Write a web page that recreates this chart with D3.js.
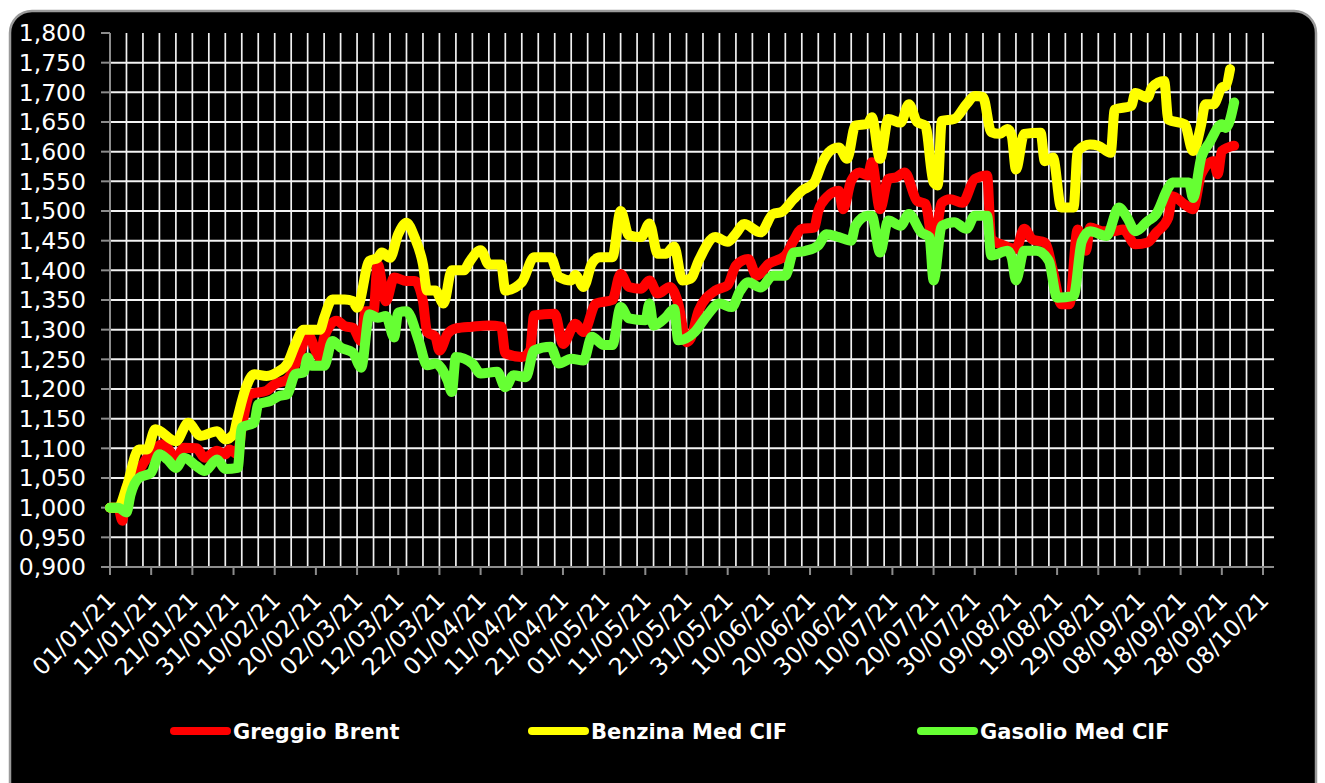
<!DOCTYPE html>
<meta charset="utf-8">
<style>
  body { margin: 0; background: #fff; }
  text { font-family: "DejaVu Sans", Verdana, sans-serif; fill: #fff; }
</style>
<body>
<script src="https://cdnjs.cloudflare.com/ajax/libs/d3/7.8.5/d3.min.js"></script>
<script>

// ---- data (days counted from 01/01/21) ----
var seriesNames = ["Greggio Brent", "Benzina Med CIF", "Gasolio Med CIF"];
var seriesColors = ["#ff0000", "#ffff00", "#66ff33"];

var brentDays = [0,2,3,4,7,9,13,16,18,21,23,26,28,29,31,32,34,38,40,43,46,48,51,52,55,57,59,61,62,64,65,67,69,72,74,76,77,79,80,82,84,88,92,95,96,100,102,103,108,110,113,115,118,122,124,126,129,131,133,136,138,140,141,143,147,150,152,155,157,160,164,166,168,171,172,174,177,178,180,182,184,185,187,189,191,193,196,198,200,202,204,207,210,213,214,217,220,222,224,227,229,231,233,235,237,238,241,244,246,249,252,254,257,258,261,263,265,268,269,270,273];
var brentValues = [1.000,1.000,0.978,1.034,1.062,1.084,1.107,1.084,1.101,1.100,1.084,1.096,1.090,1.098,1.090,1.135,1.191,1.197,1.208,1.216,1.258,1.292,1.253,1.287,1.315,1.306,1.303,1.281,1.331,1.331,1.410,1.348,1.388,1.382,1.382,1.348,1.296,1.288,1.265,1.293,1.302,1.305,1.307,1.305,1.260,1.254,1.265,1.324,1.327,1.276,1.310,1.296,1.344,1.350,1.394,1.372,1.369,1.383,1.361,1.372,1.344,1.279,1.285,1.333,1.366,1.375,1.408,1.419,1.391,1.411,1.425,1.450,1.470,1.472,1.500,1.523,1.534,1.503,1.551,1.565,1.560,1.582,1.503,1.554,1.557,1.565,1.517,1.512,1.442,1.514,1.520,1.514,1.554,1.560,1.453,1.442,1.436,1.470,1.452,1.447,1.399,1.343,1.343,1.469,1.433,1.472,1.466,1.466,1.469,1.444,1.447,1.463,1.489,1.525,1.511,1.503,1.562,1.584,1.562,1.601,1.610];

var benzinaDays = [0,2,4,7,9,11,16,19,22,26,28,30,31,33,35,38,41,43,45,47,51,52,54,57,59,60,63,65,66,68,70,72,74,76,77,79,81,83,86,87,90,92,95,96,100,103,107,109,112,113,115,117,119,122,124,126,129,131,133,135,137,139,141,143,147,150,152,154,158,161,163,166,168,171,173,175,177,179,181,184,185,187,189,192,194,196,198,200,201,202,205,208,210,212,214,216,218,219,220,222,226,227,229,231,234,235,238,240,243,244,248,249,252,253,256,257,261,263,265,266,268,270,271,272];
var benzinaValues = [1.000,1.000,1.034,1.098,1.098,1.132,1.112,1.143,1.121,1.129,1.115,1.124,1.152,1.202,1.225,1.222,1.230,1.242,1.275,1.300,1.300,1.320,1.351,1.351,1.348,1.337,1.416,1.421,1.430,1.421,1.461,1.480,1.455,1.410,1.366,1.366,1.344,1.400,1.400,1.411,1.434,1.410,1.410,1.366,1.380,1.422,1.422,1.389,1.383,1.392,1.372,1.411,1.422,1.422,1.500,1.459,1.456,1.479,1.428,1.428,1.440,1.383,1.386,1.417,1.456,1.448,1.462,1.478,1.464,1.495,1.498,1.520,1.534,1.548,1.582,1.602,1.607,1.588,1.644,1.647,1.658,1.588,1.655,1.649,1.680,1.650,1.644,1.548,1.543,1.652,1.655,1.680,1.694,1.692,1.633,1.630,1.638,1.626,1.570,1.630,1.632,1.584,1.590,1.506,1.506,1.601,1.612,1.610,1.598,1.671,1.677,1.699,1.691,1.708,1.719,1.654,1.646,1.601,1.646,1.680,1.680,1.708,1.711,1.739];

var gasolioDays = [0,2,4,5,7,10,12,14,16,18,21,23,26,28,31,32,35,36,39,41,43,45,47,48,49,52,54,56,59,61,63,65,67,69,70,72,75,77,79,82,83,84,88,90,94,96,98,101,103,107,109,112,115,117,120,122,124,126,130,131,132,135,137,138,142,145,148,151,153,155,158,161,164,166,169,172,174,177,180,181,184,185,187,189,192,194,197,199,200,202,205,208,210,213,214,218,219,220,222,225,228,230,234,236,238,242,245,247,249,252,254,257,258,262,263,265,267,270,271,273];
var gasolioValues = [1.000,1.000,0.992,1.022,1.050,1.059,1.090,1.081,1.067,1.084,1.070,1.062,1.081,1.065,1.067,1.135,1.143,1.174,1.180,1.188,1.191,1.225,1.228,1.253,1.239,1.239,1.281,1.270,1.261,1.236,1.326,1.320,1.323,1.287,1.329,1.331,1.281,1.240,1.243,1.214,1.195,1.254,1.243,1.226,1.229,1.203,1.223,1.220,1.265,1.271,1.243,1.251,1.248,1.288,1.274,1.274,1.338,1.319,1.316,1.344,1.307,1.321,1.335,1.282,1.296,1.324,1.344,1.338,1.365,1.380,1.371,1.391,1.391,1.430,1.433,1.442,1.461,1.456,1.450,1.475,1.492,1.492,1.430,1.484,1.475,1.495,1.464,1.456,1.383,1.475,1.481,1.470,1.492,1.492,1.425,1.433,1.421,1.383,1.433,1.433,1.416,1.354,1.357,1.449,1.466,1.458,1.506,1.489,1.466,1.483,1.494,1.539,1.548,1.548,1.522,1.590,1.615,1.646,1.640,1.683];

var xTickLabels = ["01/01/21","11/01/21","21/01/21","31/01/21","10/02/21","20/02/21","02/03/21","12/03/21","22/03/21","01/04/21","11/04/21","21/04/21","01/05/21","11/05/21","21/05/21","31/05/21","10/06/21","20/06/21","30/06/21","10/07/21","20/07/21","30/07/21","09/08/21","19/08/21","29/08/21","08/09/21","18/09/21","28/09/21","08/10/21"];
var yTicks = [0.90,0.95,1.00,1.05,1.10,1.15,1.20,1.25,1.30,1.35,1.40,1.45,1.50,1.55,1.60,1.65,1.70,1.75,1.80];

// ---- layout ----
var W = 1325, H = 783;
var plot = {left: 110, top: 33, right: 1274, bottom: 567};

var parse = d3.timeParse("%d/%m/%y");
var start = parse("01/01/21");
var day = function(d) { return d3.timeDay.offset(start, d); };

var x = d3.scaleTime()
    .domain([start, parse("08/10/21")])
    .range([plot.left, 1263]);
var y = d3.scaleLinear()
    .domain([0.9, 1.8])
    .range([plot.bottom, plot.top]);

var fmt = function(v) { return d3.format(".3f")(v).replace(".", ","); };

var svg = d3.select("body").append("svg")
    .attr("width", W)
    .attr("height", H);

// black panel with rounded border
svg.append("rect")
    .attr("x", 10).attr("y", 11)
    .attr("width", 1306).attr("height", 800)
    .attr("rx", 22)
    .style("fill", "#000")
    .style("stroke", "#9a9a9a")
    .style("stroke-width", 2.5);

// grid
var vDays = d3.range(4, 281, 4);
svg.append("g").selectAll("line")
    .data(vDays)
  .enter().append("line")
    .attr("x1", function(d) { return x(day(d)); })
    .attr("x2", function(d) { return x(day(d)); })
    .attr("y1", plot.top).attr("y2", plot.bottom)
    .style("stroke", "#f2f2f2")
    .style("stroke-width", 1.7);

svg.append("g").selectAll("line")
    .data(yTicks.slice(1, -1))
  .enter().append("line")
    .attr("x1", plot.left).attr("x2", plot.right)
    .attr("y1", function(d) { return y(d); })
    .attr("y2", function(d) { return y(d); })
    .style("stroke", "#f2f2f2")
    .style("stroke-width", 2);

// axes
var axisColor = "#8c8c8c";
svg.append("line")
    .attr("x1", plot.left).attr("x2", plot.left)
    .attr("y1", plot.top).attr("y2", plot.bottom)
    .style("stroke", axisColor).style("stroke-width", 2);
svg.append("line")
    .attr("x1", plot.left).attr("x2", plot.right)
    .attr("y1", plot.bottom).attr("y2", plot.bottom)
    .style("stroke", axisColor).style("stroke-width", 2);

var yAxis = svg.append("g");
yAxis.selectAll("line")
    .data(yTicks)
  .enter().append("line")
    .attr("x1", plot.left - 9).attr("x2", plot.left)
    .attr("y1", function(d) { return y(d); })
    .attr("y2", function(d) { return y(d); })
    .style("stroke", axisColor).style("stroke-width", 2);
yAxis.selectAll("text")
    .data(yTicks)
  .enter().append("text")
    .attr("x", 86)
    .attr("y", function(d) { return y(d); })
    .attr("dy", "0.36em")
    .style("text-anchor", "end")
    .style("font-size", "23.5px")
    .text(fmt);

var xAxis = svg.append("g");
xAxis.selectAll("line")
    .data(xTickLabels)
  .enter().append("line")
    .attr("x1", function(d) { return x(parse(d)); })
    .attr("x2", function(d) { return x(parse(d)); })
    .attr("y1", plot.bottom).attr("y2", plot.bottom + 8)
    .style("stroke", axisColor).style("stroke-width", 2);
xAxis.selectAll("text")
    .data(xTickLabels)
  .enter().append("text")
    .attr("transform", function(d) {
      return "translate(" + (x(parse(d)) + 7) + "," + (plot.bottom + 35) + ")rotate(-45)";
    })
    .style("text-anchor", "end")
    .style("font-size", "23.5px")
    .text(function(d) { return d; });

// series
var series = [
  {days: brentDays, values: brentValues},
  {days: benzinaDays, values: benzinaValues},
  {days: gasolioDays, values: gasolioValues}
];

var line = d3.line()
    .x(function(d) { return x(day(d[0])); })
    .y(function(d) { return y(d[1]); })
    .curve(d3.curveMonotoneX);

series.forEach(function(s, i) {
  svg.append("path")
      .datum(d3.zip(s.days, s.values))
      .attr("d", line)
      .style("fill", "none")
      .style("stroke", seriesColors[i])
      .style("stroke-width", 10)
      .style("stroke-linejoin", "round")
      .style("stroke-linecap", "round");
});

// legend
var legendX = [171, 529, 918];
var legend = svg.selectAll(".legend")
    .data(seriesNames)
  .enter().append("g")
    .attr("class", "legend")
    .attr("transform", function(d, i) { return "translate(" + legendX[i] + ",731)"; });

legend.append("line")
    .attr("x1", 3).attr("x2", 56)
    .attr("y1", 0).attr("y2", 0)
    .style("stroke", function(d, i) { return seriesColors[i]; })
    .style("stroke-width", 8)
    .style("stroke-linecap", "round");

legend.append("text")
    .attr("x", 62)
    .attr("y", 7.5)
    .style("font-weight", "bold")
    .style("font-size", "21px")
    .text(function(d) { return d; });

</script>
</body>
